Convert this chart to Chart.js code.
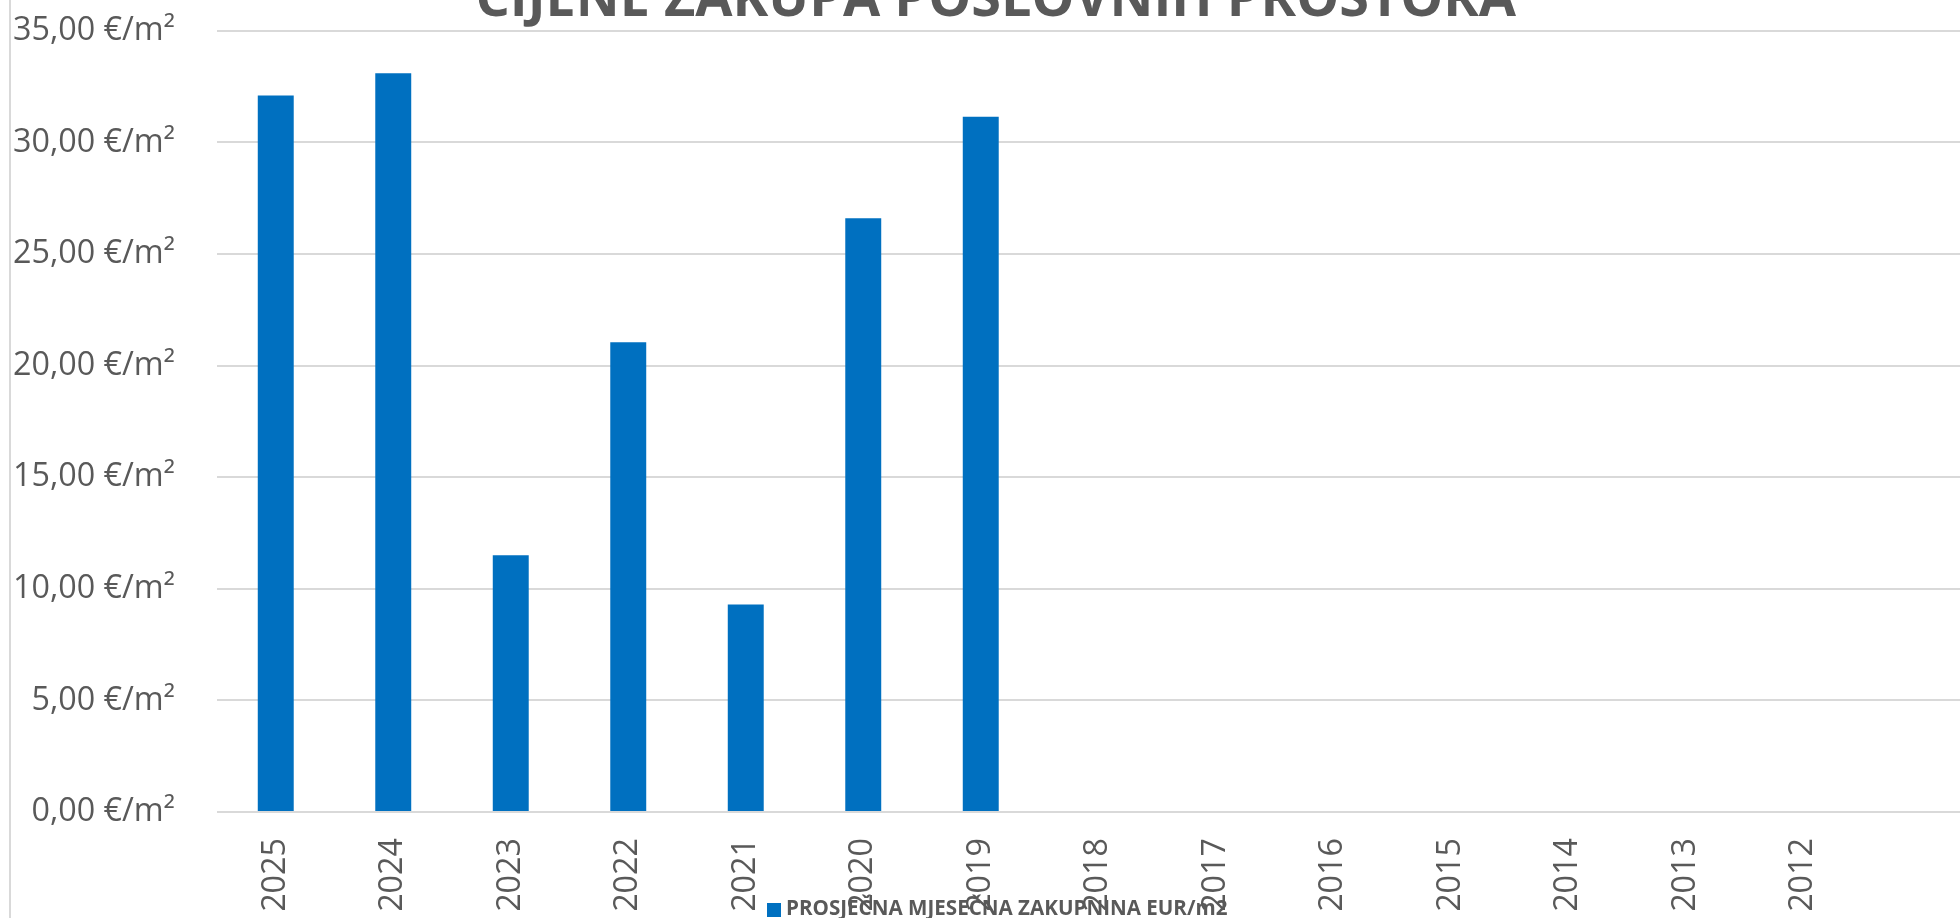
<!DOCTYPE html>
<html>
<head>
<meta charset="utf-8">
<script src="https://cdn.jsdelivr.net/npm/chart.js@4.4.1/dist/chart.umd.min.js"></script>
<style>
    html, body { margin: 0; padding: 0; background: #fff; overflow: hidden; }
    body { width: 1960px; height: 918px; position: relative; }
    #wrap { position: absolute; left: 0; top: -44px; width: 1988px; height: 954px; }
    #rub { position: absolute; left: 9px; top: 0; width: 2px; height: 918px; background: #d9d9d9; }
    #legenda {
        position: absolute; left: 767px; top: 895px;
        font-family: "Open Sans", sans-serif; font-weight: bold; font-size: 20.6px;
        color: #595959; white-space: nowrap; line-height: 24px;
    }
    #legenda span {
        display: inline-block; width: 14px; height: 14px; background: #0070C0;
        margin-right: 5px; vertical-align: -2px;
    }
</style>
</head>
<body>
<div id="rub"></div>
<div id="wrap"><canvas id="zakupChart"></canvas></div>
<div id="legenda"><span></span>PROSJEČNA MJESEČNA ZAKUPNINA EUR/m2</div>

<script>
// godine (zadnja kategorija je prazna, graf ide dalje od ruba)
const godine = ['2025', '2024', '2023', '2022', '2021', '2020', '2019', '2018', '2017', '2016', '2015', '2014', '2013', '2012', ''];
// prosječna mjesečna zakupnina EUR/m2
const zakupnina = [32.1, 33.1, 11.5, 21.05, 9.3, 26.6, 31.15, null, null, null, null, null, null, null, null];
// vrijednosti na osi y
const yMin = 0;
const yMax = 35;
const yKorak = 5;

const siva = '#595959';

const data = {
    labels: godine,
    datasets: [{
        label: 'PROSJEČNA MJESEČNA ZAKUPNINA EUR/m2',
        data: zakupnina,
        backgroundColor: '#0070C0',
        borderWidth: 0,
        categoryPercentage: 1,
        barPercentage: 0.306
    }]
};

const config = {
    type: 'bar',
    data: data,
    options: {
        responsive: true,
        maintainAspectRatio: false,
        animation: false,
        layout: {
            padding: { left: 12, right: 8.5, top: 0, bottom: 0 }
        },
        plugins: {
            legend: { display: false },
            tooltip: { enabled: false },
            title: {
                display: true,
                text: 'CIJENE ZAKUPA POSLOVNIH PROSTORA',
                color: siva,
                font: { family: 'Open Sans', size: 54, weight: 'bold' },
                padding: { top: 12.5, bottom: -2.5 }
            }
        },
        scales: {
            x: {
                grid: { display: false, drawTicks: false },
                border: { display: false },
                ticks: {
                    color: siva,
                    font: { family: 'Open Sans', size: 32.3 },
                    minRotation: 90,
                    maxRotation: 90,
                    padding: 26,
                    autoSkip: false
                },
                // visina osi s godinama
                afterFit: function(scale) {
                    scale.height = 98;
                }
            },
            y: {
                min: yMin,
                max: yMax,
                grid: { color: '#d9d9d9', lineWidth: 2, drawTicks: false },
                border: { display: false },
                ticks: {
                    stepSize: yKorak,
                    color: siva,
                    font: { family: 'Open Sans', size: 32.3 },
                    padding: 42,
                    callback: function(v) {
                        return v.toFixed(2).replace('.', ',') + ' €/m²';
                    }
                },
                afterFit: function(scale) {
                    scale.width = 205;
                }
            }
        }
    }
};

// crtanje grafa
const zakupChart = new Chart(document.getElementById('zakupChart'), config);
</script>
</body>
</html>
